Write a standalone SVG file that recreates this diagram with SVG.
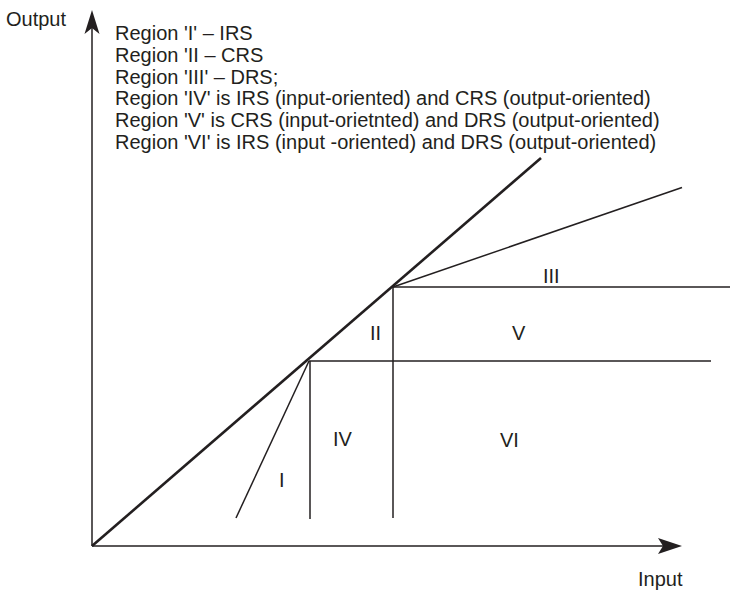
<svg xmlns="http://www.w3.org/2000/svg" width="730" height="595" viewBox="0 0 730 595">
<style>
text{font-family:"Liberation Sans",Arial,sans-serif;font-size:20px;fill:#231f20}
.ln{stroke:#231f20;stroke-width:1.5;fill:none}
.thick{stroke:#231f20;stroke-width:2.6;fill:none}
.ah{fill:#231f20;stroke:none}
</style>
<rect width="730" height="595" fill="#fff"/>
<g id="connectors">
<line class="ln" x1="92" y1="546" x2="92" y2="24"/>
<path class="ah" d="M92,10 L99.5,34 L92,28 L84.5,34 Z"/>
<line class="ln" x1="92" y1="546" x2="670" y2="546"/>
<path class="ah" d="M682,546 L658,554 L663,546 L658,538 Z"/>
<line class="thick" x1="92" y1="546" x2="541" y2="158"/>
<line class="ln" x1="393" y1="287" x2="682" y2="187.5"/>
<line class="ln" x1="393" y1="287" x2="730" y2="287"/>
<line class="ln" x1="393" y1="287" x2="393" y2="518"/>
<line class="ln" x1="309" y1="361" x2="711" y2="361"/>
<line class="ln" x1="310" y1="361" x2="310" y2="519"/>
<line class="ln" x1="309" y1="361" x2="236" y2="518"/>
</g>
<g id="axis-labels">
<text x="6" y="26">Output</text>
<text x="638" y="586">Input</text>
</g>
<g id="legend">
<text x="115" y="40">Region 'I' – IRS</text>
<text x="115" y="61.8">Region 'II – CRS</text>
<text x="115" y="83.6">Region 'III' – DRS;</text>
<text x="115" y="105.4">Region 'IV' is IRS (input-oriented) and CRS (output-oriented)</text>
<text x="115" y="127.2">Region 'V' is CRS (input-orietnted) and DRS (output-oriented)</text>
<text x="115" y="149">Region 'VI' is IRS (input -oriented) and DRS (output-oriented)</text>
</g>
<g id="region-I"><text x="279" y="487">I</text></g>
<g id="region-II"><text x="370" y="340">II</text></g>
<g id="region-III"><text x="543" y="283">III</text></g>
<g id="region-IV"><text x="333" y="446">IV</text></g>
<g id="region-V"><text x="512" y="340">V</text></g>
<g id="region-VI"><text x="500" y="447">VI</text></g>
</svg>
